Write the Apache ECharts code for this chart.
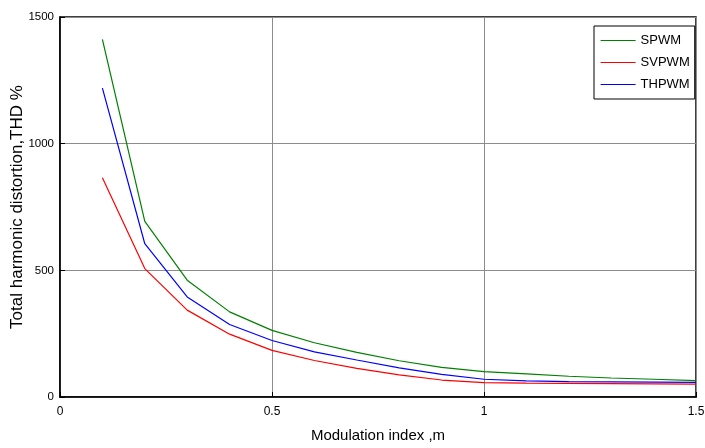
<!DOCTYPE html>
<html><head><meta charset="utf-8">
<script src="https://cdn.jsdelivr.net/npm/echarts@6/dist/echarts.min.js"></script>
<style>html,body{margin:0;padding:0;background:#fff}#c{width:705px;height:448px}</style>
</head><body><div id="c"></div>
<script>
const mValues = [0.1,0.2,0.3,0.4,0.5,0.6,0.7,0.8,0.9,1.0,1.1,1.2,1.3,1.4,1.5];
const spwm  = [1412,693,461,336,263,214,176,143,117,100,91,82,75,70,65];
const svpwm = [865,507,343,248,184,144,113,87,67,57,55,54,53,52,51];
const thpwm = [1219,605,395,286,223,178,146,115,89,70,64,61,60,59,58];
const seriesNames = ['SPWM','SVPWM','THPWM'];
const seriesColors = ['#008000','#ff0000','#0000ff'];
const xTicks = {min:0,max:1.5,interval:0.5};
const yTicks = {min:0,max:1500,interval:500};

const font = '"Liberation Sans Narrow","Liberation Sans",Arial,sans-serif';
const chart = echarts.init(document.getElementById('c'));
const toPairs = arr => arr.map((v,i)=>[mValues[i],v]);
const datasets = [spwm,svpwm,thpwm];
chart.setOption({
  animation:false,
  backgroundColor:'#fff',
  grid:{left:60,right:9,top:17,bottom:51,containLabel:false,outerBoundsMode:'none',
    show:true,borderColor:'#000',borderWidth:1.5,backgroundColor:'transparent'},
  legend:{
    orient:'vertical', left:594, top:26,
    data:seriesNames,
    itemStyle:{opacity:0},
    lineStyle:{width:1.2},
    backgroundColor:'#fff', borderColor:'#000', borderWidth:1,
    padding:[8,5,8,6], itemGap:9, itemWidth:35, itemHeight:14,
    textStyle:{fontFamily:font,fontSize:13,color:'#000'}
  },
  xAxis:{
    type:'value', min:xTicks.min, max:xTicks.max, interval:xTicks.interval,
    name:'Modulation index ,m', nameLocation:'middle', nameGap:31,
    nameMoveOverlap:false,
    nameTextStyle:{fontFamily:font,fontSize:15,color:'#000'},
    axisLine:{show:true,lineStyle:{color:'#000',width:1.5}},
    axisTick:{show:true,inside:true,length:5,lineStyle:{color:'#000'}},
    axisLabel:{fontFamily:font,fontSize:12,color:'#000',margin:9,
      formatter:v=>String(v)},
    splitLine:{show:true,lineStyle:{color:'#8c8c8c',width:1}}
  },
  yAxis:{
    type:'value', min:yTicks.min, max:yTicks.max, interval:yTicks.interval,
    name:'Total harmonic distortion,THD %', nameLocation:'middle', nameGap:34,
    nameMoveOverlap:false,
    nameTextStyle:{fontFamily:font,fontSize:17,color:'#000'},
    axisLine:{show:true,lineStyle:{color:'#000',width:1.5}},
    axisTick:{show:true,inside:true,length:5,lineStyle:{color:'#000'}},
    axisLabel:{fontFamily:font,fontSize:11.5,color:'#000',margin:6,
      formatter:v=>String(v)},
    splitLine:{show:true,lineStyle:{color:'#8c8c8c',width:1}}
  },
  series: seriesNames.map((n,i)=>({
    name:n, type:'line', data:toPairs(datasets[i]),
    showSymbol:false, symbol:'none',
    lineStyle:{color:seriesColors[i],width:1.2}, itemStyle:{color:seriesColors[i]}
  }))
});
</script></body></html>
